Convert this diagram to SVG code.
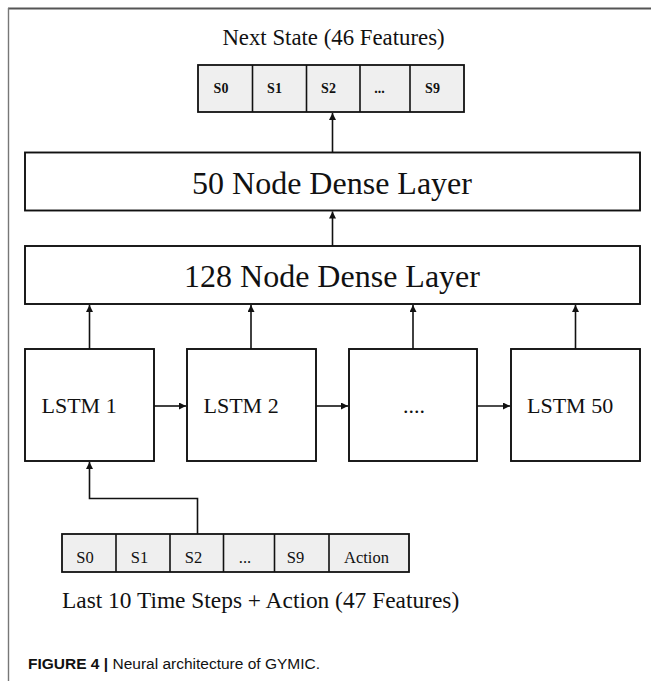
<svg xmlns="http://www.w3.org/2000/svg" width="651" height="681" viewBox="0 0 651 681">
<style>
.serif{font-family:"Liberation Serif","Times New Roman",serif;fill:#111}
.box{fill:#fff;stroke:#111;stroke-width:1.9}
.cell{fill:#efefef;stroke:#111;stroke-width:1.8}
.div{stroke:#111;stroke-width:1.6}
.conn{fill:none;stroke:#111;stroke-width:1.6}
.big{font-size:32px;text-anchor:middle}
.lstm{font-size:22px}
.tl{font-size:14px;font-weight:bold;text-anchor:middle}
.bl{font-size:16.5px;text-anchor:middle}
</style>
<defs>
<marker id="ah" viewBox="0 0 10 10" refX="10" refY="5" markerWidth="8" markerHeight="7" markerUnits="userSpaceOnUse" orient="auto">
<path d="M0,0 L10,5 L0,10 z" fill="#111"/>
</marker>
</defs>
<rect width="651" height="681" fill="#fff"/>
<g id="frame">
<line x1="8" y1="8.5" x2="651" y2="8.5" stroke="#555" stroke-width="1.8"/>
<line x1="8.5" y1="8" x2="8.5" y2="681" stroke="#777" stroke-width="1.4"/>
</g>
<g id="output">
<text class="serif" x="333.5" y="45" text-anchor="middle" style="font-size:22.8px">Next State (46 Features)</text>
<rect class="cell" x="198" y="65" width="266" height="47"/>
<line class="div" x1="252.5" y1="65" x2="252.5" y2="112"/>
<line class="div" x1="306.5" y1="65" x2="306.5" y2="112"/>
<line class="div" x1="360" y1="65" x2="360" y2="112"/>
<line class="div" x1="410" y1="65" x2="410" y2="112"/>
<text class="serif tl" x="221" y="93">S0</text>
<text class="serif tl" x="274.5" y="93">S1</text>
<text class="serif tl" x="328.5" y="93">S2</text>
<text class="serif tl" x="379.5" y="93">...</text>
<text class="serif tl" x="432.5" y="93">S9</text>
</g>
<g id="dense50">
<rect class="box" x="25" y="152.5" width="615" height="58"/>
<text class="serif big" x="332" y="193.5">50 Node Dense Layer</text>
</g>
<g id="dense128">
<rect class="box" x="25" y="246" width="615" height="58"/>
<text class="serif big" x="332" y="287">128 Node Dense Layer</text>
</g>
<g id="lstm1">
<rect class="box" x="25" y="349" width="129" height="112"/>
<text class="serif lstm" x="41.5" y="413">LSTM 1</text>
</g>
<g id="lstm2">
<rect class="box" x="187" y="349" width="129" height="112"/>
<text class="serif lstm" x="203.5" y="413">LSTM 2</text>
</g>
<g id="lstm3">
<rect class="box" x="349" y="349" width="128" height="112"/>
<text class="serif lstm" x="414" y="413" text-anchor="middle">....</text>
</g>
<g id="lstm50">
<rect class="box" x="511" y="349" width="129" height="112"/>
<text class="serif lstm" x="527" y="413">LSTM 50</text>
</g>
<g id="input">
<rect class="cell" x="62" y="534" width="347" height="38"/>
<line class="div" x1="116" y1="534" x2="116" y2="572"/>
<line class="div" x1="170" y1="534" x2="170" y2="572"/>
<line class="div" x1="223.5" y1="534" x2="223.5" y2="572"/>
<line class="div" x1="274.5" y1="534" x2="274.5" y2="572"/>
<line class="div" x1="329" y1="534" x2="329" y2="572"/>
<text class="serif bl" x="85" y="563">S0</text>
<text class="serif bl" x="139.5" y="563">S1</text>
<text class="serif bl" x="193.5" y="563">S2</text>
<text class="serif bl" x="245" y="563">...</text>
<text class="serif bl" x="295.5" y="563">S9</text>
<text class="serif bl" x="366.5" y="563">Action</text>
<text class="serif" x="62" y="608" style="font-size:23.4px">Last 10 Time Steps + Action (47 Features)</text>
</g>
<g id="connectors">
<line class="conn" x1="332.5" y1="152.5" x2="332.5" y2="113" marker-end="url(#ah)"/>
<line class="conn" x1="332.5" y1="246" x2="332.5" y2="211.5" marker-end="url(#ah)"/>
<line class="conn" x1="89.5" y1="349" x2="89.5" y2="305" marker-end="url(#ah)"/>
<line class="conn" x1="251" y1="349" x2="251" y2="305" marker-end="url(#ah)"/>
<line class="conn" x1="413" y1="349" x2="413" y2="305" marker-end="url(#ah)"/>
<line class="conn" x1="575.5" y1="349" x2="575.5" y2="305" marker-end="url(#ah)"/>
<line class="conn" x1="154" y1="406" x2="186" y2="406" marker-end="url(#ah)"/>
<line class="conn" x1="316" y1="406" x2="348" y2="406" marker-end="url(#ah)"/>
<line class="conn" x1="477" y1="406" x2="510" y2="406" marker-end="url(#ah)"/>
<path class="conn" d="M197.5,534 V498.5 H89.5 V462" marker-end="url(#ah)"/>
</g>
<g id="caption">
<text x="28" y="669" style="font-family:'Liberation Sans',Arial,sans-serif;font-size:15.5px;fill:#111"><tspan font-weight="bold">FIGURE 4 |</tspan> Neural architecture of GYMIC.</text>
</g>
</svg>
